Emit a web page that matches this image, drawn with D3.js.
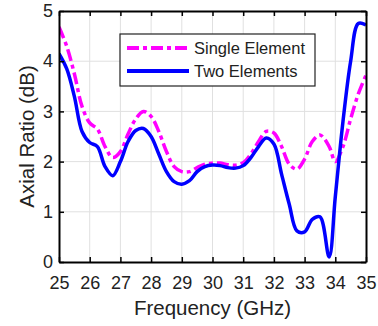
<!DOCTYPE html>
<html>
<head>
<meta charset="utf-8">
<script src="https://cdn.jsdelivr.net/npm/d3@7/dist/d3.min.js"></script>
<style>
  body { margin: 0; background: #fff; }
  svg { display: block; font-family: Arial, "Liberation Sans", sans-serif; }
</style>
</head>
<body>
<div id="chart"></div>
<script>
// frequency samples (GHz)
const freq = [25, 25.25, 25.5, 25.75, 26, 26.25, 26.5, 26.75, 27, 27.25, 27.5, 27.75, 28, 28.25, 28.5, 28.75,
  29, 29.25, 29.5, 29.75, 30, 30.25, 30.5, 30.75, 31, 31.25, 31.5, 31.75, 32, 32.25, 32.5, 32.75,
  33, 33.25, 33.5, 33.8, 34, 34.25, 34.5, 34.75, 35];

const singleElement = [4.68, 4.3, 3.75, 3.1, 2.77, 2.65, 2.3, 2.08, 2.2, 2.55, 2.85, 3.0, 2.9, 2.6, 2.2, 1.9,
  1.8, 1.8, 1.88, 1.95, 1.97, 1.97, 1.94, 1.93, 1.98, 2.15, 2.4, 2.6, 2.57, 2.3, 1.95, 1.85,
  2.05, 2.4, 2.53, 2.3, 2.0, 2.3, 2.85, 3.35, 3.72];

const twoElements = [4.15, 3.85, 3.3, 2.6, 2.38, 2.3, 1.9, 1.72, 2.0, 2.4, 2.62, 2.66, 2.5, 2.15, 1.8, 1.6,
  1.55, 1.62, 1.8, 1.9, 1.93, 1.92, 1.88, 1.87, 1.92, 2.08, 2.3, 2.47, 2.35, 1.75, 1.15, 0.62,
  0.6, 0.85, 0.9, 0.1, 1.3, 2.8, 4.0, 4.75, 4.72];

const xTicks = d3.range(25, 36, 1);
const yTicks = [0, 1, 2, 3, 4, 5];

const width = 378, height = 326;
const margin = { top: 11, right: 12, bottom: 64, left: 59 };

const svg = d3.select("#chart").append("svg")
  .attr("width", width)
  .attr("height", height);

const x = d3.scaleLinear().domain([25, 35]).range([margin.left, width - margin.right]);
const y = d3.scaleLinear().domain([0, 5]).range([height - margin.bottom, margin.top]);

// grid
svg.append("g").selectAll("line").data(xTicks.slice(1, -1)).join("line")
  .attr("x1", d => x(d)).attr("x2", d => x(d))
  .attr("y1", y(0)).attr("y2", y(5))
  .attr("stroke", "#e0e0e0").attr("stroke-width", 1);
svg.append("g").selectAll("line").data(yTicks.slice(1, -1)).join("line")
  .attr("x1", x(25)).attr("x2", x(35))
  .attr("y1", d => y(d)).attr("y2", d => y(d))
  .attr("stroke", "#e0e0e0").attr("stroke-width", 1);

// curves
const line = vals => d3.line()
  .x((d, i) => x(freq[i]))
  .y(d => y(d))
  .curve(d3.curveCatmullRom.alpha(0.5))(vals);

svg.append("defs").append("clipPath").attr("id", "clip")
  .append("rect").attr("x", x(25)).attr("y", y(5)).attr("width", x(35) - x(25)).attr("height", y(0) - y(5));

svg.append("path")
  .attr("d", line(singleElement))
  .attr("fill", "none").attr("stroke", "#ff00ff").attr("stroke-width", 3.5)
  .attr("stroke-dasharray", "12,4,4,4")
  .attr("clip-path", "url(#clip)");

svg.append("path")
  .attr("d", line(twoElements))
  .attr("fill", "none").attr("stroke", "#0000ff").attr("stroke-width", 3.5)
  .attr("stroke-linejoin", "round")
  .attr("clip-path", "url(#clip)");

// axes
const xAxis = svg.append("g").attr("transform", `translate(0,${y(0)})`)
  .call(d3.axisBottom(x).tickValues(xTicks).tickFormat(d3.format("d"))
    .tickSizeInner(-5).tickSizeOuter(0).tickPadding(14));
const xTop = svg.append("g").attr("transform", `translate(0,${y(5)})`)
  .call(d3.axisTop(x).tickValues(xTicks).tickSizeInner(-5).tickSizeOuter(0).tickFormat(""));
const yAxis = svg.append("g").attr("transform", `translate(${x(25)},0)`)
  .call(d3.axisLeft(y).tickValues(yTicks).tickFormat(d3.format("d"))
    .tickSizeInner(-5).tickSizeOuter(0).tickPadding(6));
const yRight = svg.append("g").attr("transform", `translate(${x(35)},0)`)
  .call(d3.axisRight(y).tickValues(yTicks).tickSizeInner(-5).tickSizeOuter(0).tickFormat(""));

[xAxis, xTop, yAxis, yRight].forEach(g => {
  g.select(".domain").attr("stroke", "#000").attr("stroke-width", 2);
  g.selectAll(".tick line").attr("stroke", "#000").attr("stroke-width", 1.5);
  g.selectAll("text").attr("font-size", 18).attr("fill", "#222").attr("font-family", "Arial, 'Liberation Sans', sans-serif");
});

// axis labels
svg.append("text")
  .attr("x", (x(25) + x(35)) / 2).attr("y", 315)
  .attr("text-anchor", "middle").attr("font-size", 20.5).attr("fill", "#222")
  .text("Frequency (GHz)");
svg.append("text")
  .attr("transform", `translate(34,${(y(0) + y(5)) / 2}) rotate(-90)`)
  .attr("text-anchor", "middle").attr("font-size", 20.5).attr("fill", "#222")
  .text("Axial Ratio (dB)");

// legend
const legend = svg.append("g");
legend.append("rect")
  .attr("x", 120).attr("y", 34).attr("width", 195).attr("height", 52)
  .attr("fill", "#fff").attr("stroke", "#222").attr("stroke-width", 1.2);
const entries = [
  { name: "Single Element", color: "#ff00ff", dash: "12,4,4,4" },
  { name: "Two Elements", color: "#0000ff", dash: null }
];
entries.forEach((e, i) => {
  const yy = 48 + i * 23;
  legend.append("line")
    .attr("x1", 127).attr("x2", 189).attr("y1", yy).attr("y2", yy)
    .attr("stroke", e.color).attr("stroke-width", 4)
    .attr("stroke-dasharray", e.dash);
  legend.append("text")
    .attr("x", 194).attr("y", yy + 6)
    .attr("font-size", 16.5).attr("fill", "#222")
    .text(e.name);
});
</script>
</body>
</html>
